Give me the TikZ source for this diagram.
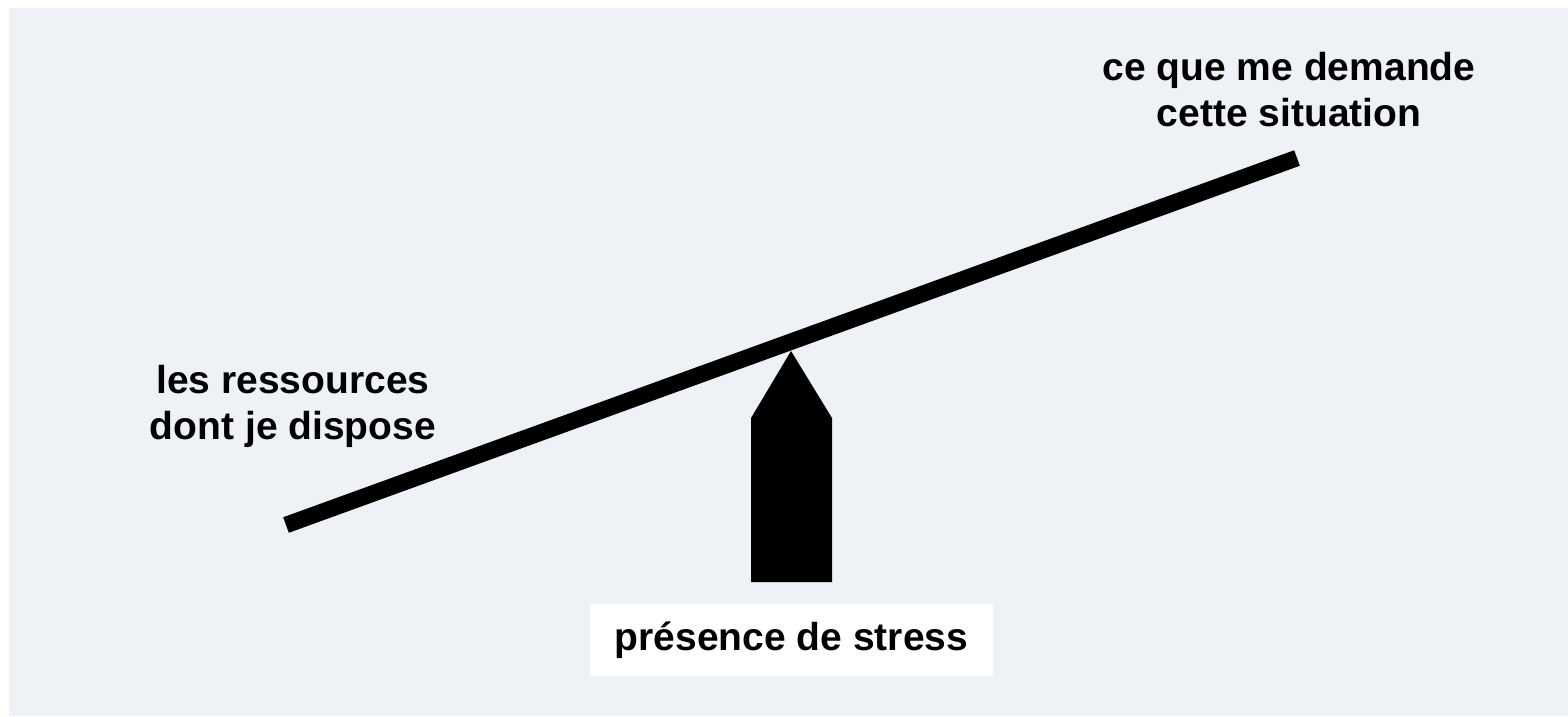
\documentclass[tikz,border=0pt]{standalone}
\usepackage{fontspec}
\setmainfont{Liberation Sans}
\definecolor{bgcol}{HTML}{EEF1F6}
\tikzset{
  lbl/.style={font=\bfseries\fontsize{39}{46}\selectfont, align=center, inner sep=0pt, anchor=base, text=black},
  beam/.style={line width=16.5pt, line cap=butt, black},
  stressbox/.style={fill=white, draw=none, minimum width=403pt, minimum height=72pt, inner sep=0pt,
    font=\bfseries\fontsize{39}{46}\selectfont}
}
\begin{document}
\begin{tikzpicture}[x=1pt,y=-1pt]
\useasboundingbox (0,0) rectangle (1568,716);
\fill[white] (0,0) rectangle (1568,716);
\fill[bgcol] (9,8) rectangle (1568,716);
% beam
\coordinate (bl) at (286,525);
\coordinate (br) at (1297,158);
\draw[beam] (bl) -- (br);
% fulcrum
\fill[black] (751,582) -- (751,418) -- (791,351) -- (832,418) -- (832,582) -- cycle;
% labels
\node[lbl] (demand) at (1289,126) {ce que me demande\\cette situation};
\node[lbl] (res) at (293,439) {les ressources\\dont je dispose};
\node[stressbox] (stress) at (791.5,640) {présence de stress};
\end{tikzpicture}
\end{document}
